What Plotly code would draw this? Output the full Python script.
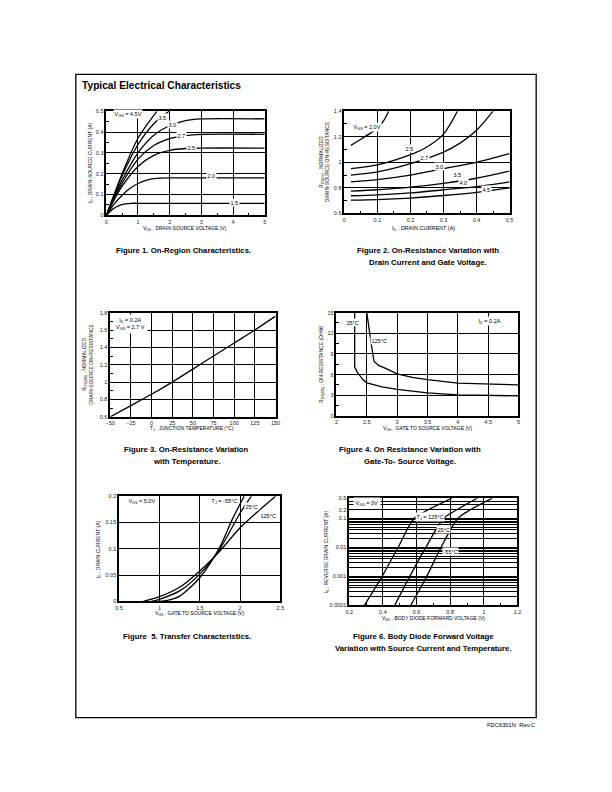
import math
import plotly.graph_objects as go

W, H = 612, 792

# ---------------- Data ----------------
# Figure 1: On-region characteristics (VDS vs ID), one curve per VGS
f1_labels = ["4.5", "3.5", "3.0", "2.7", "2.5", "2.0", "1.5"]
f1_x = [
    [0, 0.5, 1.0, 1.6],
    [0, 0.5, 1.0, 1.5, 1.98],
    [0, 0.25, 0.5, 1.0, 1.5, 2.0, 2.5, 3.0, 5.0],
    [0, 0.25, 0.5, 1.0, 1.5, 2.0, 2.5, 3.0, 5.0],
    [0, 0.25, 0.5, 1.0, 1.5, 2.0, 2.5, 3.0, 5.0],
    [0, 0.25, 0.5, 0.75, 1.0, 1.25, 1.5, 1.75, 2.0, 5.0],
    [0, 0.2, 0.4, 0.6, 0.8, 1.0, 5.0],
]
f1_y = [
    [0, 0.2, 0.37, 0.5],
    [0, 0.19, 0.34, 0.44, 0.5],
    [0, 0.09, 0.17, 0.30, 0.385, 0.43, 0.455, 0.463, 0.463],
    [0, 0.082, 0.155, 0.27, 0.335, 0.368, 0.383, 0.389, 0.389],
    [0, 0.075, 0.14, 0.235, 0.288, 0.312, 0.321, 0.323, 0.323],
    [0, 0.055, 0.097, 0.13, 0.153, 0.168, 0.176, 0.179, 0.18, 0.18],
    [0, 0.03, 0.047, 0.055, 0.058, 0.058, 0.058],
]

# Figure 2: normalized on-resistance vs drain current, one curve per VGS
f2_labels = ["2.0", "2.5", "2.7", "3.0", "3.5", "4.0", "4.5"]
f2_x = [
    [0.02, 0.05, 0.08, 0.1, 0.12, 0.134],
    [0.02, 0.1, 0.2, 0.25, 0.3, 0.342],
    [0.02, 0.1, 0.2, 0.3, 0.35, 0.4, 0.45],
    [0.02, 0.1, 0.2, 0.3, 0.4, 0.5],
    [0.02, 0.1, 0.2, 0.3, 0.4, 0.5],
    [0.02, 0.1, 0.2, 0.3, 0.4, 0.5],
    [0.02, 0.1, 0.2, 0.3, 0.4, 0.5],
]
f2_y = [
    [1.132, 1.18, 1.23, 1.267, 1.33, 1.4],
    [0.95, 0.98, 1.06, 1.12, 1.22, 1.4],
    [0.90, 0.925, 0.99, 1.08, 1.15, 1.25, 1.4],
    [0.847, 0.865, 0.90, 0.95, 1.0, 1.067],
    [0.774, 0.785, 0.805, 0.835, 0.875, 0.93],
    [0.738, 0.745, 0.76, 0.785, 0.81, 0.847],
    [0.704, 0.708, 0.72, 0.74, 0.765, 0.80],
]

# Figure 3: on-resistance vs junction temperature
f3_temp = [-50, -25, 0, 25, 50, 75, 100, 125, 150]
f3_rds = [0.6, 0.73, 0.86, 1.0, 1.15, 1.3, 1.45, 1.6, 1.76]

# Figure 4: on-resistance vs gate voltage
f4_vgs_25 = [2.3, 2.3, 2.34, 2.43, 2.5, 2.75, 3.0, 3.5, 4.0, 4.5, 5.0]
f4_r_25 = [15, 7.1, 6.4, 5.3, 4.8, 4.2, 3.85, 3.35, 3.05, 2.95, 2.9]
f4_vgs_125 = [2.5, 2.55, 2.58, 2.62, 2.7, 2.81, 3.0, 3.25, 3.5, 4.0, 4.5, 5.0]
f4_r_125 = [15, 11.6, 10.0, 7.9, 7.3, 6.9, 6.1, 5.6, 5.25, 4.75, 4.6, 4.5]

# Figure 5: transfer characteristics (-55, 25, 125 °C)
f5_labels = ["-55", "25", "125"]
f5_x = [
    [1.0, 1.1, 1.25, 1.5, 1.75, 1.9, 2.05],
    [0.9, 1.0, 1.25, 1.5, 1.75, 2.0, 2.14],
    [0.8, 1.0, 1.25, 1.5, 1.75, 2.0, 2.25, 2.44],
]
f5_y = [
    [0, 0.002, 0.01, 0.045, 0.104, 0.155, 0.2],
    [0, 0.004, 0.02, 0.052, 0.1, 0.168, 0.2],
    [0, 0.009, 0.027, 0.058, 0.096, 0.14, 0.175, 0.2],
]

# Figure 6: body diode forward voltage
f6_is = [1e-4, 1e-3, 1e-2, 0.1, 0.2, 0.5]
f6_v125 = [0.29, 0.395, 0.49, 0.585, 0.67, 0.81]
f6_v25 = [0.47, 0.56, 0.655, 0.76, 0.84, 0.96]
f6_vm55 = [0.565, 0.66, 0.745, 0.845, 0.92, 1.05]

# ---------------- Layout helpers ----------------
def dx(a, b):
    return [a / W, b / W]

def dy(top, bottom):
    return [1 - bottom / H, 1 - top / H]

FONT = "Liberation Sans, Arial, sans-serif"
fig = go.Figure()
LW = 1.3

def line(x, y, ax, shape="spline", smoothing=0.8):
    fig.add_trace(go.Scatter(
        x=x, y=y, mode="lines", xaxis="x" + ax, yaxis="y" + ax,
        line=dict(color="black", width=LW, shape=shape, smoothing=smoothing),
        showlegend=False, hoverinfo="skip"))

for xs, ys in zip(f1_x, f1_y):
    line(xs, ys, "")
for xs, ys in zip(f2_x, f2_y):
    line(xs, ys, "2")
line(f3_temp, f3_rds, "3")
line(f4_vgs_25, f4_r_25, "4", shape="linear")
line(f4_vgs_125, f4_r_125, "4", shape="linear")
for xs, ys in zip(f5_x, f5_y):
    line(xs, ys, "5")
for vs in (f6_v125, f6_v25, f6_vm55):
    line(vs, f6_is, "6")

def axis(domain, anchor, rng, dtick=None, minor=None, typ="linear", **kw):
    d = dict(domain=domain, anchor=anchor, range=rng, type=typ,
             showline=True, linecolor="black", linewidth=1.5, mirror=True,
             showgrid=True, gridcolor="black", gridwidth=1.1,
             zeroline=False, ticks="", tickfont=dict(size=5.5, family=FONT, color="#222"),
             fixedrange=True)
    if dtick is not None:
        d["dtick"] = dtick
    if minor is not None:
        d["minor"] = dict(dtick=minor, ticks="inside", ticklen=2.5, tickcolor="black", showgrid=False)
    d.update(kw)
    return d

# Fig 6 log ticks (grid at every 1..9 multiple, labels only at a few)
f6_ticks = []
f6_text = []
shown = {1e-4: "0.0001", 1e-3: "0.001", 1e-2: "0.01", 0.1: "0.1", 0.2: "0.2", 0.5: "0.5"}
for dec in (1e-4, 1e-3, 1e-2, 0.1):
    for m in range(1, 10):
        v = round(m * dec, 6)
        if v > 0.5:
            break
        f6_ticks.append(v)
        f6_text.append(shown.get(v, ""))

fig.update_layout(
    width=W, height=H, margin=dict(l=0, r=0, t=0, b=0),
    paper_bgcolor="white", plot_bgcolor="white",
    font=dict(family=FONT, color="black"),
    xaxis=axis(dx(103, 264), "y", [0, 5], 1, 0.5),
    yaxis=axis(dy(109, 214), "x", [0, 0.5], 0.1, 0.05),
    xaxis2=axis(dx(345, 513), "y2", [0, 0.5], 0.1, 0.05),
    yaxis2=axis(dy(109, 212), "x2", [0.6, 1.4], 0.2, 0.1),
    xaxis3=axis(dx(107, 275), "y3", [-50, 150], 25),
    yaxis3=axis(dy(312, 417), "x3", [0.6, 1.8], 0.2, 0.1),
    xaxis4=axis(dx(337, 522), "y4", [2, 5], 0.5),
    yaxis4=axis(dy(312, 416), "x4", [0, 15], 3, 1.5),
    xaxis5=axis(dx(116, 280), "y5", [0.5, 2.5], 0.5),
    yaxis5=axis(dy(497, 603), "x5", [0, 0.2], 0.05),
    xaxis6=axis(dx(350, 521), "y6", [0.2, 1.2], 0.2, 0.1),
    yaxis6=axis(dy(499, 607), "x6", [math.log10(1e-4), math.log10(0.5)], None, None, "log",
                tickvals=f6_ticks, ticktext=f6_text),
)

ann = []

def px_text(text, x, y, size=5.5, angle=0, bold=False, xanchor="center"):
    ann.append(dict(text=("<b>%s</b>" % text) if bold else text, x=x / W, y=1 - y / H,
                    xref="paper", yref="paper", showarrow=False, textangle=angle,
                    xanchor=xanchor, yanchor="middle", borderpad=0,
                    font=dict(size=size, family=FONT, color="black")))

def data_text(text, x, y, ax, size=5.5, bg="white", xanchor="center", pad=0.5):
    ann.append(dict(text=text, x=x, y=y, xref="x" + ax, yref="y" + ax, showarrow=False,
                    xanchor=xanchor, yanchor="middle", bgcolor=bg, borderpad=pad,
                    font=dict(size=size, family=FONT, color="black")))

# Page title and footer
px_text("Typical Electrical Characteristics", 77, 83, size=10.2, bold=True, xanchor="left")
px_text("FDC6301N  Rev.C", 540, 728, size=5.8, xanchor="right")

# Axis titles
px_text("V<sub>DS</sub> , DRAIN-SOURCE VOLTAGE (V)", 183, 227, size=5)
px_text("I<sub>D</sub> , DRAIN-SOURCE CURRENT (A)", 87, 161, size=5, angle=-90)
px_text("I<sub>D</sub> , DRAIN CURRENT (A)", 425, 227, size=5.5)
px_text("R<sub>DS(on)</sub> , NORMALIZED<br>DRAIN-SOURCE ON-RESISTANCE", 325, 160, size=5, angle=-90)
px_text("T<sub>J</sub> , JUNCTION TEMPERATURE (°C)", 190, 429, size=5)
px_text("R<sub>DS(ON)</sub> , NORMALIZED<br>DRAIN-SOURCE ON-RESISTANCE", 84, 364, size=5, angle=-90)
px_text("V<sub>GS</sub> , GATE TO SOURCE VOLTAGE (V)", 430, 429, size=5)
px_text("R<sub>DS(ON)</sub> , ON-RESISTANCE (OHM)", 321, 364, size=5, angle=-90)
px_text("V<sub>GS</sub> , GATE TO SOURCE VOLTAGE (V)", 198, 615, size=5)
px_text("I<sub>D</sub> , DRAIN CURRENT (A)", 95, 550, size=5, angle=-90)
px_text("V<sub>SD</sub> , BODY DIODE FORWARD VOLTAGE (V)", 436, 620, size=5)
px_text("I<sub>S</sub> , REVERSE DRAIN CURRENT (A)", 327, 553, size=5, angle=-90)

# Captions
CAP = 7.8
px_text("Figure 1. On-Region Characteristics.", 181, 249, size=CAP, bold=True)
px_text("Figure 2. On-Resistance Variation with", 430, 249, size=CAP, bold=True)
px_text("Drain Current and Gate Voltage.", 430, 261, size=CAP, bold=True)
px_text("Figure 3. On-Resistance Variation", 185, 450, size=CAP, bold=True)
px_text("with Temperature.", 185, 462, size=CAP, bold=True)
px_text("Figure 4. On Resistance Variation with", 412, 450, size=CAP, bold=True)
px_text("Gate-To- Source Voltage.", 412, 462, size=CAP, bold=True)
px_text("Figure  5. Transfer Characteristics.", 185, 638, size=CAP, bold=True)
px_text("Figure 6. Body Diode Forward Voltage", 425, 638, size=CAP, bold=True)
px_text("Variation with Source Current and Temperature.", 425, 650, size=CAP, bold=True)

# In-plot labels
data_text("V<sub>GS</sub> = 4.5V", 0.69, 0.486, "")
for t, x, y in [("3.5", 1.76, 0.468), ("3.0", 2.09, 0.436), ("2.7", 2.38, 0.382),
                ("2.5", 2.7, 0.328), ("2.0", 3.33, 0.19), ("1.5", 4.05, 0.062)]:
    data_text(t, x, y, "")
data_text("V<sub>GS</sub> = 2.0V", 0.067, 1.275, "2")
for t, x, y in [("2.5", 0.198, 1.106), ("2.7", 0.243, 1.04), ("3.0", 0.287, 0.964),
                ("3.5", 0.342, 0.904), ("4.0", 0.361, 0.842), ("4.5", 0.429, 0.79)]:
    data_text(t, x, y, "2")
data_text("I<sub>D</sub> = 0.2A<br>V<sub>GS</sub> = 2.7 V", -47, 1.67, "3", xanchor="left", pad=2)
data_text("25°C", 2.27, 13.6, "4")
data_text("125°C", 2.7, 11.0, "4")
data_text("I<sub>D</sub> = 0.2A", 4.52, 13.8, "4")
data_text("V<sub>DS</sub> = 5.0V", 0.6, 0.19, "5", xanchor="left")
data_text("T<sub>J</sub> = -55°C", 1.81, 0.19, "5")
data_text("25°C", 2.14, 0.181, "5")
data_text("125°C", 2.35, 0.163, "5")
data_text("V<sub>GS</sub> = 0V", 0.225, math.log10(0.33), "6", xanchor="left", pad=1.5)
data_text("T<sub>J</sub> = 125°C", 0.68, math.log10(0.11), "6")
data_text("25°C", 0.76, math.log10(0.04), "6")
data_text("-55°C", 0.8, math.log10(0.0075), "6")

fig.update_layout(annotations=ann)

# Page frame
fig.add_shape(type="rect", xref="paper", yref="paper",
              x0=72 / W, x1=540 / W, y0=1 - 720 / H, y1=1 - 72 / H,
              line=dict(color="black", width=1.3))

fig.write_html("out.html")
